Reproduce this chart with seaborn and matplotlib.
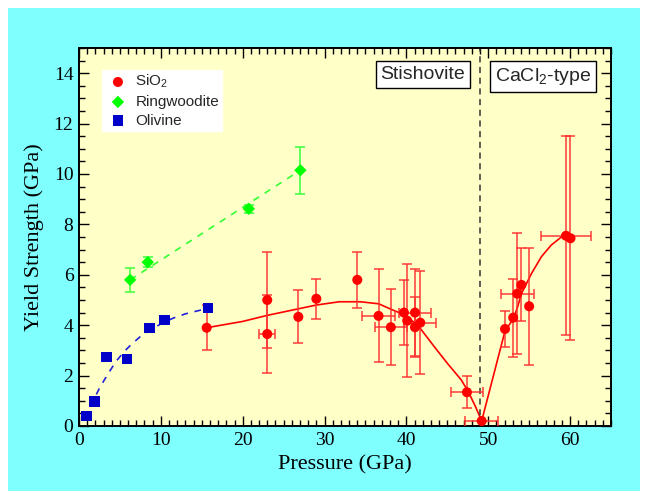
import numpy as np
import pandas as pd
import matplotlib
matplotlib.use('Agg')
import matplotlib.pyplot as plt
import seaborn as sns
from matplotlib.patches import Rectangle
from matplotlib.ticker import MultipleLocator

# DATA
sio2_p = [15.6, 23.0, 23.0, 26.8, 29.0, 34.0, 36.6, 38.1, 39.7, 40.1, 41.05, 41.05, 41.7,
          47.4, 49.2, 52.05, 53.05, 53.55, 54.05, 55.0, 59.5, 60.05]
sio2_y = [3.9, 5.0, 3.65, 4.33, 5.05, 5.8, 4.37, 3.92, 4.5, 4.18, 4.5, 3.92, 4.1,
          1.34, 0.2, 3.85, 4.3, 5.25, 5.6, 4.75, 7.55, 7.45]
sio2_yerr = [0.9, 1.9, 1.55, 1.05, 0.8, 1.1, 1.85, 1.5, 1.28, 2.25, 1.74, 1.2, 2.04,
             0.63, 0.0, 0.7, 1.55, 2.4, 1.45, 2.33, 3.94, 4.05]
sio2_xerr = [0, 0, 1.0, 0, 0, 0, 2.0, 1.95, 0, 0, 1.95, 0, 1.95,
             1.95, 2.0, 0, 0, 2.0, 0, 0, 3.0, 0]

rw_p = [6.25, 8.4, 20.75, 27.05]
rw_y = [5.8, 6.5, 8.62, 10.15]
rw_yerr = [0.47, 0.2, 0.15, 0.93]

ol_p = [0.9, 1.9, 3.35, 5.9, 8.6, 10.45, 15.8]
ol_y = [0.4, 0.97, 2.75, 2.65, 3.9, 4.22, 4.68]

# fit curves
sio2_fit_p = [15.6, 20.0, 23.0, 26.8, 29.0, 31.8, 34.4, 36.6, 38.5, 39.7, 41.4, 43.4,
              45.0, 46.7, 47.5, 48.4, 49.2]
sio2_fit_y = [3.9, 4.15, 4.39, 4.65, 4.8, 4.93, 4.93, 4.85, 4.58, 4.42, 4.0, 3.15,
              2.49, 1.83, 1.4, 0.8, 0.2]
cacl_fit_p = [49.2, 52.05, 53.06, 53.6, 54.04, 55.3, 56.5, 57.7, 58.9, 59.5]
cacl_fit_y = [0.2, 3.77, 4.25, 4.73, 5.24, 6.06, 6.72, 7.18, 7.49, 7.54]
rw_fit_p = [6.25, 27.05]
rw_fit_y = [5.8, 10.15]
ol_fit_p = [0.7, 1.5, 2.5, 3.5, 4.5, 5.5, 6.5, 7.5, 8.6, 10.0, 11.5, 13.0, 14.5, 15.8]
ol_fit_y = [0.3, 0.85, 1.5, 2.05, 2.55, 2.95, 3.27, 3.55, 3.8, 4.05, 4.28, 4.45, 4.57, 4.67]

transition_p = 49.0

sio2 = pd.DataFrame({'p': sio2_p, 'y': sio2_y})
rw = pd.DataFrame({'p': rw_p, 'y': rw_y})
ol = pd.DataFrame({'p': ol_p, 'y': ol_y})

# STYLE
sns.set_theme(style="ticks")
plt.rcParams['font.family'] = ['Liberation Sans', 'DejaVu Sans']
plt.rcParams['mathtext.default'] = 'regular'

fig = plt.figure(figsize=(6.47, 4.91), dpi=100)
fig.patch.set_facecolor('white')
bg = Rectangle((8 / 647, 0), 632 / 647, 1 - 8 / 491, transform=fig.transFigure,
               facecolor='#80FFFF', edgecolor='none', zorder=-10)
fig.add_artist(bg)

ax = fig.add_axes([79 / 647, 1 - 426 / 491, 532 / 647, 378 / 491])
ax.set_zorder(1)
ax.set_facecolor('#FFFFC8')

red = '#FF0000'
blue = '#0000C8'

# fit lines
sns.lineplot(x=sio2_fit_p, y=sio2_fit_y, ax=ax, color=red, lw=1.2, sort=False, estimator=None)
sns.lineplot(x=cacl_fit_p, y=cacl_fit_y, ax=ax, color=red, lw=1.2, sort=False, estimator=None)
sns.lineplot(x=rw_fit_p, y=rw_fit_y, ax=ax, color='#33FF33', lw=1.2, ls=(0, (4, 4)),
             sort=False, estimator=None)
sns.lineplot(x=ol_fit_p, y=ol_fit_y, ax=ax, color='#2222DD', lw=1.2, ls=(0, (4, 4)),
             sort=False, estimator=None)

# error bars
ax.errorbar(sio2_p, sio2_y, yerr=sio2_yerr, xerr=sio2_xerr, fmt='none', ecolor='#FF3030',
            elinewidth=1.3, capsize=3.5, capthick=1.3, alpha=0.8, zorder=3)
ax.errorbar(rw_p, rw_y, yerr=rw_yerr, fmt='none', ecolor='#44FF44',
            elinewidth=1.3, capsize=3.5, capthick=1.3, alpha=0.9, zorder=3)

# markers
sns.scatterplot(data=sio2, x='p', y='y', ax=ax, marker='o', s=52, color=red,
                edgecolor='none', label='SiO$_2$', zorder=4)
sns.scatterplot(data=rw, x='p', y='y', ax=ax, marker='D', s=40, color='#00FF00',
                edgecolor='none', label='Ringwoodite', zorder=4)
sns.scatterplot(data=ol, x='p', y='y', ax=ax, marker='s', s=55, color=blue,
                edgecolor='none', label='Olivine', zorder=4)

ax.axvline(transition_p, color='#333333', lw=1.1, ls=(0, (4, 3)), zorder=2)

box = dict(facecolor='white', edgecolor='black', lw=1, boxstyle='square,pad=0.25')
ax.text(42.0, 14.29, 'Stishovite', ha='center', va='top', fontsize=14, bbox=box)
ax.text(56.7, 14.29, 'CaCl$_2$-type', ha='center', va='top', fontsize=14, bbox=box)

# axes
ax.set_xlim(0, 65)
ax.set_ylim(0, 15)
ax.xaxis.set_major_locator(MultipleLocator(10))
ax.xaxis.set_minor_locator(MultipleLocator(1))
ax.yaxis.set_major_locator(MultipleLocator(2))
ax.yaxis.set_minor_locator(MultipleLocator(0.5))
ax.tick_params(which='both', direction='in', top=True, right=True, color='black', width=1)
ax.tick_params(which='major', length=7, labelsize=14, labelfontfamily='Liberation Serif',
               labelcolor='black', pad=4)
ax.tick_params(which='minor', length=4)
for s in ax.spines.values():
    s.set_color('black')
    s.set_linewidth(1.4)

ax.set_xlabel('Pressure (GPa)', family='Liberation Serif', fontsize=16, color='black', labelpad=5)
ax.set_ylabel('Yield Strength (GPa)', family='Liberation Serif', fontsize=16, color='black',
              labelpad=7)

leg = ax.legend(loc='upper left', bbox_to_anchor=(0.043, 0.942), fontsize=11, frameon=True,
                fancybox=False, framealpha=1, edgecolor='white', borderaxespad=0,
                handlelength=1.7, handletextpad=0.3, labelspacing=0.3, borderpad=0.2)
leg.get_frame().set_facecolor('white')

fig.savefig('out.png', dpi=100)
